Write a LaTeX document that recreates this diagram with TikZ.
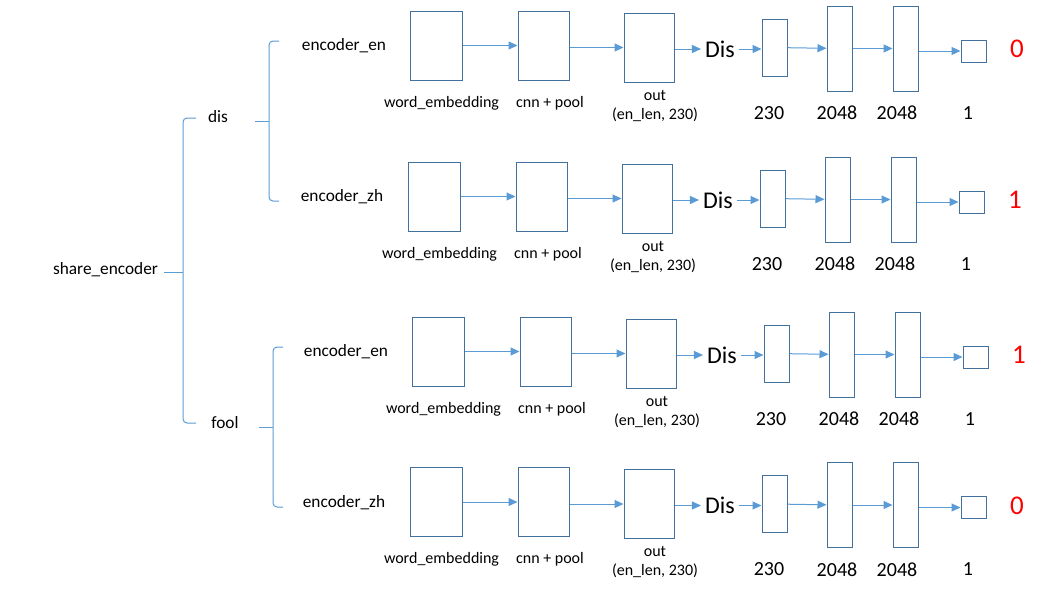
\documentclass[tikz,border=0pt]{standalone}
\usepackage{fontspec}
\setmainfont{Carlito}
\usetikzlibrary{arrows.meta}
\definecolor{boxblue}{RGB}{65,113,156}
\definecolor{lineblue}{RGB}{91,155,213}

\begin{document}
\begin{tikzpicture}[x=1pt, y=-1pt,
    box/.style={draw=boxblue, line width=1pt, minimum width=52pt, minimum height=69pt, inner sep=0pt},
    fcbox/.style={box, minimum width=25pt, minimum height=85pt},
    flow/.style={draw=lineblue, line width=1pt, -{Triangle[length=9pt, width=8pt]}},
    bracket/.style={draw=lineblue, line width=1pt, rounded corners=4pt},
    enctxt/.style={font=\fontsize{17.3}{20}\selectfont, inner sep=0pt},
    captxt/.style={font=\fontsize{16}{19}\selectfont, inner sep=0pt, align=center},
    numtxt/.style={font=\fontsize{20}{24}\selectfont, inner sep=0pt},
    distxt/.style={font=\fontsize{24}{28}\selectfont, inner sep=4pt},
    restxt/.style={font=\fontsize{27}{32}\selectfont, text=red, inner sep=0pt}]
    \useasboundingbox (0,0) rectangle (1043,598);

    % left part: braces
    \node[enctxt] (share) at (105.5,270) {share\_encoder};
    \node[enctxt] (grpdis) at (218,117) {dis};
    \node[enctxt] (grpfool) at (225,423) {fool};
    \draw[bracket] (196,118) -- (183,118) -- (183,423) -- (196,423);
    \draw[bracket] (164,272) -- (183,272);
    \draw[bracket] (279,41) -- (269,41) -- (269,201) -- (279,201);
    \draw[bracket] (255,121) -- (269,121);
    \draw[bracket] (283,347) -- (273,347) -- (273,507) -- (283,507);
    \draw[bracket] (259,427) -- (273,427);

    % row 1: dis, encoder_en
    \begin{scope}[shift={(0,0)}]
        \node[enctxt] (enc1) at (344,46) {encoder\_en};
        \node[box] (we1) at (436,45.5) {};
        \node[box, minimum width=51pt] (cnn1) at (543.5,45.5) {};
        \node[box, minimum width=50pt] (out1) at (649,47.5) {};
        \node[captxt] (wel1) at (441.5,103) {word\_embedding};
        \node[captxt] (cnnl1) at (550,103) {cnn + pool};
        \node[captxt] (outl1) at (655,106) {out\\(en\_len, 230)};
        \node[distxt] (dis1) at (720,49) {Dis};
        \node[box, minimum width=25pt, minimum height=57pt] (fa1) at (774.5,47.5) {};
        \node[fcbox] (fb1) at (839.5,48.5) {};
        \node[fcbox] (fc1) at (905.5,48.5) {};
        \node[box, minimum width=25pt, minimum height=22pt] (o1) at (973.5,51) {};
        \node[restxt] (r1) at (1017,49) {0};
        \node[numtxt] (na1) at (769,113) {230};
        \node[numtxt] (nb1) at (837,113) {2048};
        \node[numtxt] (nc1) at (897,113) {2048};
        \node[numtxt] (no1) at (968,113) {1};
        \draw[flow] (we1) -- (cnn1);
        \draw[flow] (cnn1.east |- out1) -- (out1.west);
        \draw[flow] (out1.east |- dis1) -- (dis1.west);
        \draw[flow] (dis1) -- (dis1 -| fa1.west);
        \draw[flow] (fa1) -- (fb1);
        \draw[flow] (fb1) -- (fc1);
        \draw[flow] (fc1.east |- o1) -- (o1.west);
    \end{scope}

    % row 2: dis, encoder_zh
    \begin{scope}[shift={(-2,151)}]
        \node[enctxt] (enc2) at (344,46) {encoder\_zh};
        \node[box] (we2) at (436,45.5) {};
        \node[box, minimum width=51pt] (cnn2) at (543.5,45.5) {};
        \node[box, minimum width=50pt] (out2) at (649,47.5) {};
        \node[captxt] (wel2) at (441.5,103) {word\_embedding};
        \node[captxt] (cnnl2) at (550,103) {cnn + pool};
        \node[captxt] (outl2) at (655,106) {out\\(en\_len, 230)};
        \node[distxt] (dis2) at (720,49) {Dis};
        \node[box, minimum width=25pt, minimum height=57pt] (fa2) at (774.5,47.5) {};
        \node[fcbox] (fb2) at (839.5,48.5) {};
        \node[fcbox] (fc2) at (905.5,48.5) {};
        \node[box, minimum width=25pt, minimum height=22pt] (o2) at (973.5,51) {};
        \node[restxt] (r2) at (1017,49) {1};
        \node[numtxt] (na2) at (769,113) {230};
        \node[numtxt] (nb2) at (837,113) {2048};
        \node[numtxt] (nc2) at (897,113) {2048};
        \node[numtxt] (no2) at (968,113) {1};
        \draw[flow] (we2) -- (cnn2);
        \draw[flow] (cnn2.east |- out2) -- (out2.west);
        \draw[flow] (out2.east |- dis2) -- (dis2.west);
        \draw[flow] (dis2) -- (dis2 -| fa2.west);
        \draw[flow] (fa2) -- (fb2);
        \draw[flow] (fb2) -- (fc2);
        \draw[flow] (fc2.east |- o2) -- (o2.west);
    \end{scope}

    % row 3: fool, encoder_en
    \begin{scope}[shift={(2,306)}]
        \node[enctxt] (enc3) at (344,46) {encoder\_en};
        \node[box] (we3) at (436,45.5) {};
        \node[box, minimum width=51pt] (cnn3) at (543.5,45.5) {};
        \node[box, minimum width=50pt] (out3) at (649,47.5) {};
        \node[captxt] (wel3) at (441.5,103) {word\_embedding};
        \node[captxt] (cnnl3) at (550,103) {cnn + pool};
        \node[captxt] (outl3) at (655,106) {out\\(en\_len, 230)};
        \node[distxt] (dis3) at (720,49) {Dis};
        \node[box, minimum width=25pt, minimum height=57pt] (fa3) at (774.5,47.5) {};
        \node[fcbox] (fb3) at (839.5,48.5) {};
        \node[fcbox] (fc3) at (905.5,48.5) {};
        \node[box, minimum width=25pt, minimum height=22pt] (o3) at (973.5,51) {};
        \node[restxt] (r3) at (1017,49) {1};
        \node[numtxt] (na3) at (769,113) {230};
        \node[numtxt] (nb3) at (837,113) {2048};
        \node[numtxt] (nc3) at (897,113) {2048};
        \node[numtxt] (no3) at (968,113) {1};
        \draw[flow] (we3) -- (cnn3);
        \draw[flow] (cnn3.east |- out3) -- (out3.west);
        \draw[flow] (out3.east |- dis3) -- (dis3.west);
        \draw[flow] (dis3) -- (dis3 -| fa3.west);
        \draw[flow] (fa3) -- (fb3);
        \draw[flow] (fb3) -- (fc3);
        \draw[flow] (fc3.east |- o3) -- (o3.west);
    \end{scope}

    % row 4: fool, encoder_zh
    \begin{scope}[shift={(0,456.5)}]
        \node[enctxt] (enc4) at (344,46) {encoder\_zh};
        \node[box] (we4) at (436,45.5) {};
        \node[box, minimum width=51pt] (cnn4) at (543.5,45.5) {};
        \node[box, minimum width=50pt] (out4) at (649,47.5) {};
        \node[captxt] (wel4) at (441.5,103) {word\_embedding};
        \node[captxt] (cnnl4) at (550,103) {cnn + pool};
        \node[captxt] (outl4) at (655,106) {out\\(en\_len, 230)};
        \node[distxt] (dis4) at (720,49) {Dis};
        \node[box, minimum width=25pt, minimum height=57pt] (fa4) at (774.5,47.5) {};
        \node[fcbox] (fb4) at (839.5,48.5) {};
        \node[fcbox] (fc4) at (905.5,48.5) {};
        \node[box, minimum width=25pt, minimum height=22pt] (o4) at (973.5,51) {};
        \node[restxt] (r4) at (1017,49) {0};
        \node[numtxt] (na4) at (769,113) {230};
        \node[numtxt] (nb4) at (837,113) {2048};
        \node[numtxt] (nc4) at (897,113) {2048};
        \node[numtxt] (no4) at (968,113) {1};
        \draw[flow] (we4) -- (cnn4);
        \draw[flow] (cnn4.east |- out4) -- (out4.west);
        \draw[flow] (out4.east |- dis4) -- (dis4.west);
        \draw[flow] (dis4) -- (dis4 -| fa4.west);
        \draw[flow] (fa4) -- (fb4);
        \draw[flow] (fb4) -- (fc4);
        \draw[flow] (fc4.east |- o4) -- (o4.west);
    \end{scope}
\end{tikzpicture}
\end{document}
